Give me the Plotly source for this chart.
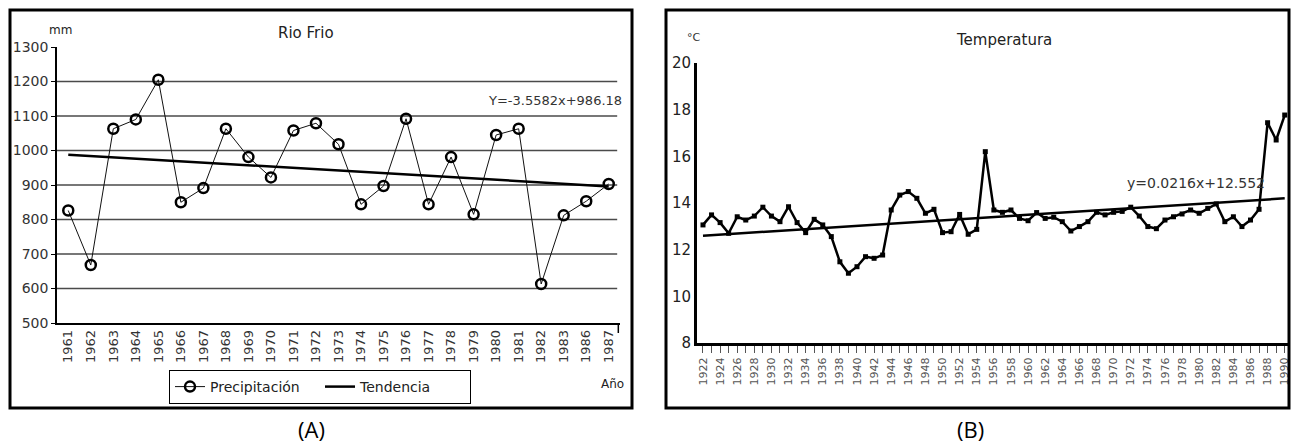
import plotly.graph_objects as go

# ---------------- Data: chart A (Rio Frio precipitation) ----------------
YEARS_A = ["1961", "1962", "1963", "1964", "1965", "1966", "1967", "1968", "1969", "1970",
           "1971", "1972", "1973", "1974", "1975", "1976", "1977", "1978", "1979", "1980",
           "1981", "1982", "1983", "1986", "1987"]
PRECIP = [826, 668, 1063, 1090, 1205, 850, 891, 1063, 981, 922,
          1058, 1079, 1018, 844, 897, 1092, 844, 981, 815, 1045,
          1063, 613, 812, 853, 903]
TREND_A = [988, 896]            # trend line at first / last year
GRID_A = [600, 700, 800, 900, 1000, 1100, 1200]
TICKS_A = [500, 600, 700, 800, 900, 1000, 1100, 1200, 1300]

# ---------------- Data: chart B (Temperatura) ----------------
YEARS_B = list(range(1922, 1991))
TEMP = [13.06, 13.49, 13.16, 12.70, 13.41, 13.27, 13.44, 13.82, 13.44, 13.20,
        13.84, 13.16, 12.73, 13.30, 13.06, 12.56, 11.48, 10.99, 11.27, 11.70,
        11.63, 11.77, 13.70, 14.34, 14.49, 14.20, 13.56, 13.73, 12.73, 12.77,
        13.51, 12.66, 12.87, 16.20, 13.70, 13.60, 13.70, 13.34, 13.24, 13.59,
        13.34, 13.39, 13.20, 12.80, 12.99, 13.20, 13.60, 13.49, 13.60, 13.64,
        13.82, 13.44, 12.99, 12.90, 13.27, 13.41, 13.53, 13.70, 13.56, 13.77,
        13.96, 13.20, 13.41, 12.99, 13.27, 13.73, 17.44, 16.70, 17.77]
TREND_B_X = [1922, 1990]
TREND_B = [12.6, 14.2]
TICKS_B = [8, 10, 12, 14, 16, 18, 20]

W, H = 1292, 444
def px(x):
    return x / W
def py(y):
    return 1 - y / H

FONT = "DejaVu Sans"

fig = go.Figure()

# Chart A traces
fig.add_trace(go.Scatter(
    x=YEARS_A, y=PRECIP, mode="lines+markers", name="Precipitación",
    line=dict(color="#111111", width=1),
    marker=dict(symbol="circle-open", size=10, color="#000000", line=dict(width=2.5, color="#000000")),
    xaxis="x", yaxis="y", showlegend=True))
fig.add_trace(go.Scatter(
    x=[YEARS_A[0], YEARS_A[-1]], y=TREND_A, mode="lines", name="Tendencia",
    line=dict(color="#000000", width=2.5),
    xaxis="x", yaxis="y", showlegend=True))

# Chart B traces
fig.add_trace(go.Scatter(
    x=YEARS_B, y=TEMP, mode="lines+markers", name="Temperatura",
    line=dict(color="#000000", width=2.5),
    marker=dict(symbol="square", size=5, color="#000000"),
    xaxis="x2", yaxis="y2", showlegend=False))
fig.add_trace(go.Scatter(
    x=TREND_B_X, y=TREND_B, mode="lines", name="Tendencia B",
    line=dict(color="#000000", width=2.5),
    xaxis="x2", yaxis="y2", showlegend=False))

shapes = []
# gridlines chart A
for g in GRID_A:
    shapes.append(dict(type="line", xref="x domain", yref="y", x0=0, x1=0.995, y0=g, y1=g,
                       line=dict(color="#4a4a4a", width=1.5), layer="below"))
# outer frames
shapes.append(dict(type="rect", xref="paper", yref="paper",
                   x0=px(10), x1=px(632), y0=py(408), y1=py(10),
                   line=dict(color="#000000", width=3)))
shapes.append(dict(type="rect", xref="paper", yref="paper",
                   x0=px(666), x1=px(1289), y0=py(408), y1=py(10),
                   line=dict(color="#000000", width=3)))
# end tick on chart A x axis
shapes.append(dict(type="line", xref="x domain", yref="paper", x0=0.997, x1=0.997,
                   y0=py(323), y1=py(333), line=dict(color="#000000", width=1.5)))

def ann(text, x, y, size, color="#222222", family=FONT):
    return dict(text=text, x=px(x), y=py(y), xref="paper", yref="paper",
                xanchor="center", yanchor="middle", showarrow=False,
                font=dict(family=family, size=size, color=color))

annotations = [
    ann("Rio Frio", 306, 33, 15),
    ann("mm", 61, 30, 12),
    ann("Y=-3.5582x+986.18", 555, 100, 13, "#333333"),
    ann("Año", 612, 384, 12),
    ann("°C", 694, 37, 11, "#333333"),
    ann("Temperatura", 1004, 40, 15),
    ann("y=0.0216x+12.552", 1196, 183, 14, "#333333"),
    ann("(A)", 311, 429, 22, "#000000", "Open Sans"),
    ann("(B)", 970, 429, 22, "#000000", "Open Sans"),
]

fig.update_layout(
    width=W, height=H, margin=dict(l=0, r=0, t=0, b=0, pad=0, autoexpand=False),
    paper_bgcolor="white", plot_bgcolor="white",
    font=dict(family=FONT, color="#222222"),
    xaxis=dict(domain=[px(57), px(620)], anchor="y", type="category", automargin=False,
               range=[-0.5, len(YEARS_A) - 0.5], tickangle=-90,
               showgrid=False, zeroline=False, showline=True, linecolor="#000000", linewidth=1.5,
               ticks="", tickfont=dict(size=13, color="#333333"), fixedrange=True),
    yaxis=dict(domain=[py(323), py(47)], anchor="x", range=[500, 1300], automargin=False,
               tickvals=TICKS_A, showgrid=False, zeroline=False,
               showline=True, linecolor="#000000", linewidth=1.5,
               ticks="outside", ticklen=4, tickcolor="#000000",
               tickfont=dict(size=14, color="#333333")),
    xaxis2=dict(domain=[px(697), px(1289)], anchor="y2", range=[1921.3, 1990.5], automargin=False,
                tickmode="linear", tick0=1922, dtick=2, tickangle=-90,
                ticks="outside", ticklen=7, tickcolor="#555555", tickwidth=1,
                minor=dict(dtick=1, tick0=1922, ticks="outside", ticklen=7,
                           tickcolor="#555555", showgrid=False),
                showgrid=False, zeroline=False, showline=True, linecolor="#000000", linewidth=3,
                tickfont=dict(size=11, color="#555555")),
    yaxis2=dict(domain=[py(343), py(63)], anchor="x2", range=[8, 20], automargin=False,
                tickvals=TICKS_B, showgrid=False, zeroline=False,
                showline=True, linecolor="#000000", linewidth=3, ticks="",
                tickfont=dict(size=15, color="#222222")),
    legend=dict(orientation="h", x=px(169), y=py(370), xanchor="left", yanchor="top",
                bordercolor="#000000", borderwidth=1, bgcolor="white",
                font=dict(family=FONT, size=14, color="#222222"), entrywidth=105),
    shapes=shapes, annotations=annotations,
)

fig.write_html("out.html", config={"displayModeBar": False},
               post_script="document.body.style.margin='0';document.body.style.overflow='hidden';")
